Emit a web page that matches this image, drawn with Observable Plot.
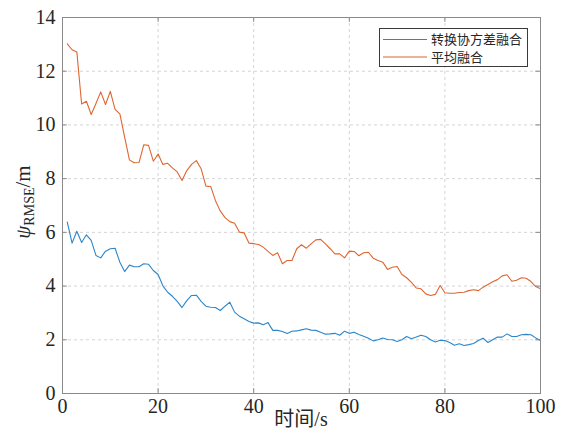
<!DOCTYPE html>
<html>
<head>
<meta charset="utf-8">
<script src="https://cdn.jsdelivr.net/npm/d3@7"></script>
<script src="https://cdn.jsdelivr.net/npm/@observablehq/plot@0.6"></script>
<style>
  html, body { margin: 0; padding: 0; background: #fff; }
  #chart { width: 566px; height: 440px; }
</style>
</head>
<body>
<div id="chart"></div>
<script>
// ---- data ----
const seriesNames = ["转换协方差融合", "平均融合"];
const time = d3.range(1, 101); // t = 1..100 s
const covFusion = [
  6.38, 5.60, 6.04, 5.62, 5.91, 5.70, 5.14, 5.05, 5.30, 5.39,
  5.41, 4.89, 4.54, 4.78, 4.72, 4.72, 4.83, 4.81, 4.58, 4.43,
  4.01, 3.77, 3.62, 3.43, 3.20, 3.46, 3.65, 3.66, 3.43, 3.25,
  3.21, 3.20, 3.09, 3.25, 3.40, 3.03, 2.88, 2.78, 2.68, 2.62,
  2.63, 2.56, 2.64, 2.35, 2.35, 2.31, 2.23, 2.32, 2.33, 2.37,
  2.41, 2.36, 2.35, 2.28, 2.21, 2.22, 2.24, 2.17, 2.32, 2.24,
  2.28, 2.20, 2.13, 2.06, 1.96, 2.00, 2.07, 2.01, 2.00, 1.94,
  2.00, 2.12, 2.04, 2.10, 2.17, 2.12, 2.00, 1.92, 1.98, 1.97,
  1.90, 1.80, 1.85, 1.79, 1.82, 1.86, 1.97, 2.06, 1.90, 2.00,
  2.10, 2.10, 2.22, 2.12, 2.12, 2.19, 2.20, 2.19, 2.07, 1.97
];
const avgFusion = [
  13.02, 12.80, 12.72, 10.78, 10.88, 10.39, 10.80, 11.23, 10.76, 11.25,
  10.58, 10.41, 9.55, 8.70, 8.59, 8.60, 9.26, 9.24, 8.65, 8.92,
  8.53, 8.57, 8.40, 8.25, 7.93, 8.30, 8.53, 8.67, 8.37, 7.72,
  7.71, 7.18, 6.80, 6.55, 6.40, 6.34, 6.01, 5.98, 5.60, 5.58,
  5.55, 5.45, 5.29, 5.14, 5.24, 4.83, 4.95, 4.95, 5.39, 5.54,
  5.41, 5.57, 5.72, 5.74, 5.57, 5.39, 5.20, 5.20, 5.05, 5.30,
  5.29, 5.13, 5.24, 5.26, 5.04, 4.95, 4.89, 4.62, 4.70, 4.73,
  4.43, 4.31, 4.14, 3.93, 3.90, 3.71, 3.65, 3.69, 4.02, 3.75,
  3.73, 3.73, 3.76, 3.77, 3.83, 3.86, 3.83, 3.96, 4.06, 4.16,
  4.24, 4.38, 4.42, 4.18, 4.22, 4.31, 4.29, 4.17, 3.98, 3.90
];
const xTicks = [0, 20, 40, 60, 80, 100];
const yTicks = [0, 2, 4, 6, 8, 10, 12, 14];
const xLabelCJK = "时间", xLabelUnit = "/s";
const yLabelMain = "ψ", yLabelSub = "RMSE", yLabelTail = "/m";

// ---- styles ----
const colors = ["#2c86c9", "#de6630"];
const serif = "Liberation Serif, DejaVu Serif, serif";
const cjk = "Noto Sans CJK SC, sans-serif";

const rows = [];
time.forEach((t, i) => {
  rows.push({t, v: covFusion[i], s: seriesNames[0]});
  rows.push({t, v: avgFusion[i], s: seriesNames[1]});
});

const chart = Plot.plot({
  width: 566,
  height: 440,
  marginLeft: 62,
  marginRight: 26,
  marginTop: 17,
  marginBottom: 47,
  style: {background: "#fff", color: "#262626"},
  x: {domain: [0, 100], ticks: xTicks, label: null},
  y: {domain: [0, 14], ticks: yTicks, label: null},
  color: {domain: seriesNames, range: colors},
  marks: [
    Plot.gridX(xTicks.slice(1, -1), {stroke: "#d4d4d4", strokeOpacity: 1, strokeDasharray: "3,3"}),
    Plot.gridY(yTicks.slice(1, -1), {stroke: "#d4d4d4", strokeOpacity: 1, strokeDasharray: "3,3"}),
    Plot.line(rows, {x: "t", y: "v", z: "s", stroke: "s", strokeWidth: 1.1}),
    Plot.frame({stroke: "#8a8a8a", strokeWidth: 1}),
    // inward ticks (MATLAB style), bottom/top and left/right
    Plot.ruleX(xTicks, {y1: 0, y2: 0.18, stroke: "#8a8a8a"}),
    Plot.ruleX(xTicks, {y1: 14, y2: 13.82, stroke: "#8a8a8a"}),
    Plot.ruleY(yTicks, {x1: 0, x2: 1.0, stroke: "#8a8a8a"}),
    Plot.ruleY(yTicks, {x1: 100, x2: 99.0, stroke: "#8a8a8a"}),
    Plot.axisX(xTicks, {tickSize: 0, tickPadding: 5, label: null, fill: "#262626",
      fontFamily: serif, fontSize: 20}),
    Plot.axisY(yTicks, {tickSize: 0, tickPadding: 7, label: null, fill: "#262626",
      fontFamily: serif, fontSize: 20})
  ]
});
document.getElementById("chart").appendChild(chart);

chart.setAttribute("font-family", serif);
chart.querySelectorAll("text").forEach(t => {
  t.setAttribute("font-family", serif);
  t.style.fontFamily = serif;
});

// ---- axis titles and legend ----
const svg = d3.select(chart);
const xl = svg.append("text")
  .attr("x", 301).attr("y", 426)
  .attr("text-anchor", "middle")
  .attr("font-size", 20).attr("fill", "#262626");
xl.append("tspan").attr("font-family", cjk).text(xLabelCJK);
xl.append("tspan").attr("font-family", serif).text(xLabelUnit);

const yl = svg.append("text")
  .attr("transform", "translate(30,202) rotate(-90)")
  .attr("text-anchor", "middle")
  .attr("font-family", serif).attr("font-size", 21).attr("fill", "#262626");
yl.append("tspan").attr("font-style", "italic").text(yLabelMain);
yl.append("tspan").attr("font-size", 14).attr("dy", 4).text(yLabelSub);
yl.append("tspan").attr("dy", -4).text(yLabelTail);

const lg = svg.append("g").attr("text-anchor", "start");
lg.append("rect")
  .attr("x", 379.5).attr("y", 28.5).attr("width", 148).attr("height", 38)
  .attr("fill", "#fff").attr("stroke", "#3a3a3a").attr("stroke-width", 1);
seriesNames.forEach((name, i) => {
  const y = 39.5 + i * 17.5;
  lg.append("line").attr("x1", 383).attr("x2", 427).attr("y1", y).attr("y2", y)
    .attr("stroke", colors[i]).attr("stroke-width", 1.1);
  lg.append("text").attr("x", 431).attr("y", y).attr("dy", "0.36em")
    .attr("text-anchor", "start").attr("font-weight", "normal")
    .attr("font-family", cjk).attr("font-size", 13)
    .attr("fill", "#262626").text(name);
});
</script>
</body>
</html>
